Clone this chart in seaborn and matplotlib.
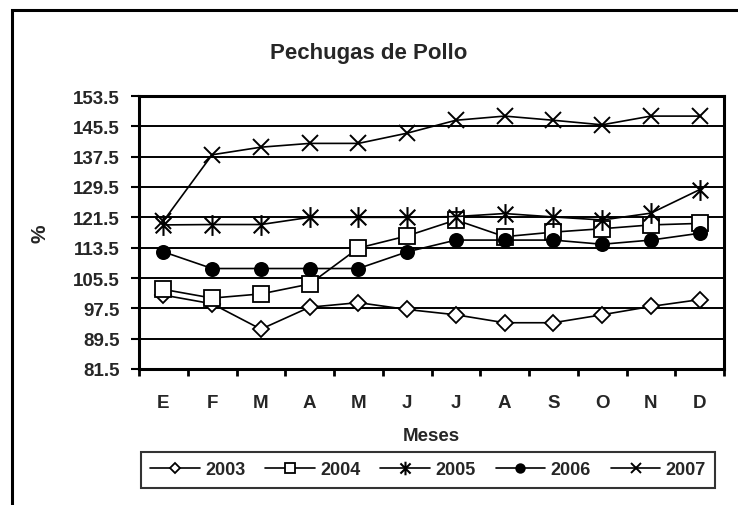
import numpy as np
import pandas as pd
import matplotlib.pyplot as plt
from matplotlib.path import Path
from matplotlib.patches import Rectangle
import seaborn as sns

sns.set_theme(style='white')
plt.rcParams['font.family'] = ['Liberation Sans', 'DejaVu Sans']
plt.rcParams['font.weight'] = 'bold'
plt.rcParams['axes.labelweight'] = 'bold'

# datos
meses = ['E', 'F', 'M', 'A', 'M', 'J', 'J', 'A', 'S', 'O', 'N', 'D']
anios = ['2003', '2004', '2005', '2006', '2007']
v2003 = [101.0, 98.7, 92.0, 97.8, 99.0, 97.2, 95.8, 93.7, 93.7, 95.8, 98.0, 99.8]
v2004 = [102.5, 100.2, 101.3, 103.9, 113.4, 116.6, 120.8, 116.4, 117.6, 118.5, 119.5, 119.9]
v2005 = [119.5, 119.6, 119.6, 121.5, 121.5, 121.5, 121.7, 122.5, 121.6, 120.8, 122.6, 128.8]
v2006 = [112.4, 108.0, 108.0, 108.0, 108.0, 112.4, 115.5, 115.5, 115.5, 114.4, 115.5, 117.3]
v2007 = [120.5, 138.0, 140.0, 141.0, 141.0, 143.7, 147.1, 148.2, 147.1, 145.9, 148.2, 148.2]
series = [v2003, v2004, v2005, v2006, v2007]

# asterisco tipo excel (X con raya vertical)
estrella = Path([(0, -1), (0, 1), (-0.75, -0.75), (0.75, 0.75), (-0.75, 0.75), (0.75, -0.75)],
                [Path.MOVETO, Path.LINETO] * 3)

estilos = {
    '2003': dict(marker='D', ms=8.5, mfc='white', mew=1.3),
    '2004': dict(marker='s', ms=11.5, mfc='white', mew=1.3),
    '2005': dict(marker=estrella, ms=15, mfc='black', mew=1.5),
    '2006': dict(marker='o', ms=9.5, mfc='black', mew=1.3),
    '2007': dict(marker='x', ms=11, mfc='black', mew=1.4),
}

fig = plt.figure(figsize=(7.38, 5.06), dpi=100)
ax = fig.add_axes([139 / 738, 1 - 370 / 506, (724 - 139) / 738, (370 - 97) / 506])

x = np.arange(len(meses))
for anio, vals in zip(anios, series):
    sns.lineplot(x=x, y=vals, ax=ax, color='black', lw=1.2, label=anio,
                 mec='black', **estilos[anio])

handles, labels = ax.get_legend_handles_labels()
if ax.get_legend() is not None:
    ax.get_legend().remove()

# ejes
ax.set_xlim(-0.5, 11.5)
ax.set_xticks(np.arange(-0.5, 12, 1))
ax.set_xticklabels([])
ax.set_xticks(x, minor=True)
ax.set_xticklabels(meses, minor=True)
ax.tick_params(axis='x', which='major', direction='out', length=5, width=2,
               color='black', bottom=True)
ax.tick_params(axis='x', which='minor', length=0, pad=18, labelsize=13.5)

yt = np.arange(81.5, 154, 8)
ax.set_ylim(81.5, 153.5)
ax.set_yticks(yt)
ax.set_yticklabels([f'{v:.1f}' for v in yt])
ax.tick_params(axis='y', direction='out', length=6, width=1.5, left=True,
               color='black', pad=8, labelsize=13.5)
ax.yaxis.grid(True, color='black', lw=1.4)
ax.xaxis.grid(False)
ax.set_axisbelow(True)
for s in ax.spines.values():
    s.set_linewidth(2.2)
    s.set_color('black')

ax.set_xlabel('Meses', fontsize=13.5, fontweight='bold', va='center')
ax.xaxis.set_label_coords(0.5, -0.245)
ax.set_ylabel('%', fontsize=15, fontweight='bold', va='center')
ax.yaxis.set_label_coords(-0.169, 0.5)

fig.suptitle('Pechugas de Pollo', x=0.5, y=1 - 53 / 506, va='center',
             fontsize=16, fontweight='bold')

leg = fig.legend(handles, labels, loc='center', bbox_to_anchor=(428 / 738, 1 - 471 / 506),
                 ncol=5, frameon=True, fancybox=False, edgecolor='black', fontsize=13,
                 handlelength=2.75, handletextpad=0.3, columnspacing=1.1, borderpad=0.5,
                 borderaxespad=0)
leg.get_frame().set_linewidth(1.5)
for h in leg.legend_handles:
    h.set_markersize(h.get_markersize() * 0.65)

# marco exterior
fig.patches.append(Rectangle((12 / 738, -0.1), 1.2, 1 - 11 / 506 + 0.1,
                             transform=fig.transFigure, fill=False, lw=2.2,
                             ec='black', clip_on=False))

fig.savefig('out.png', dpi=100)
